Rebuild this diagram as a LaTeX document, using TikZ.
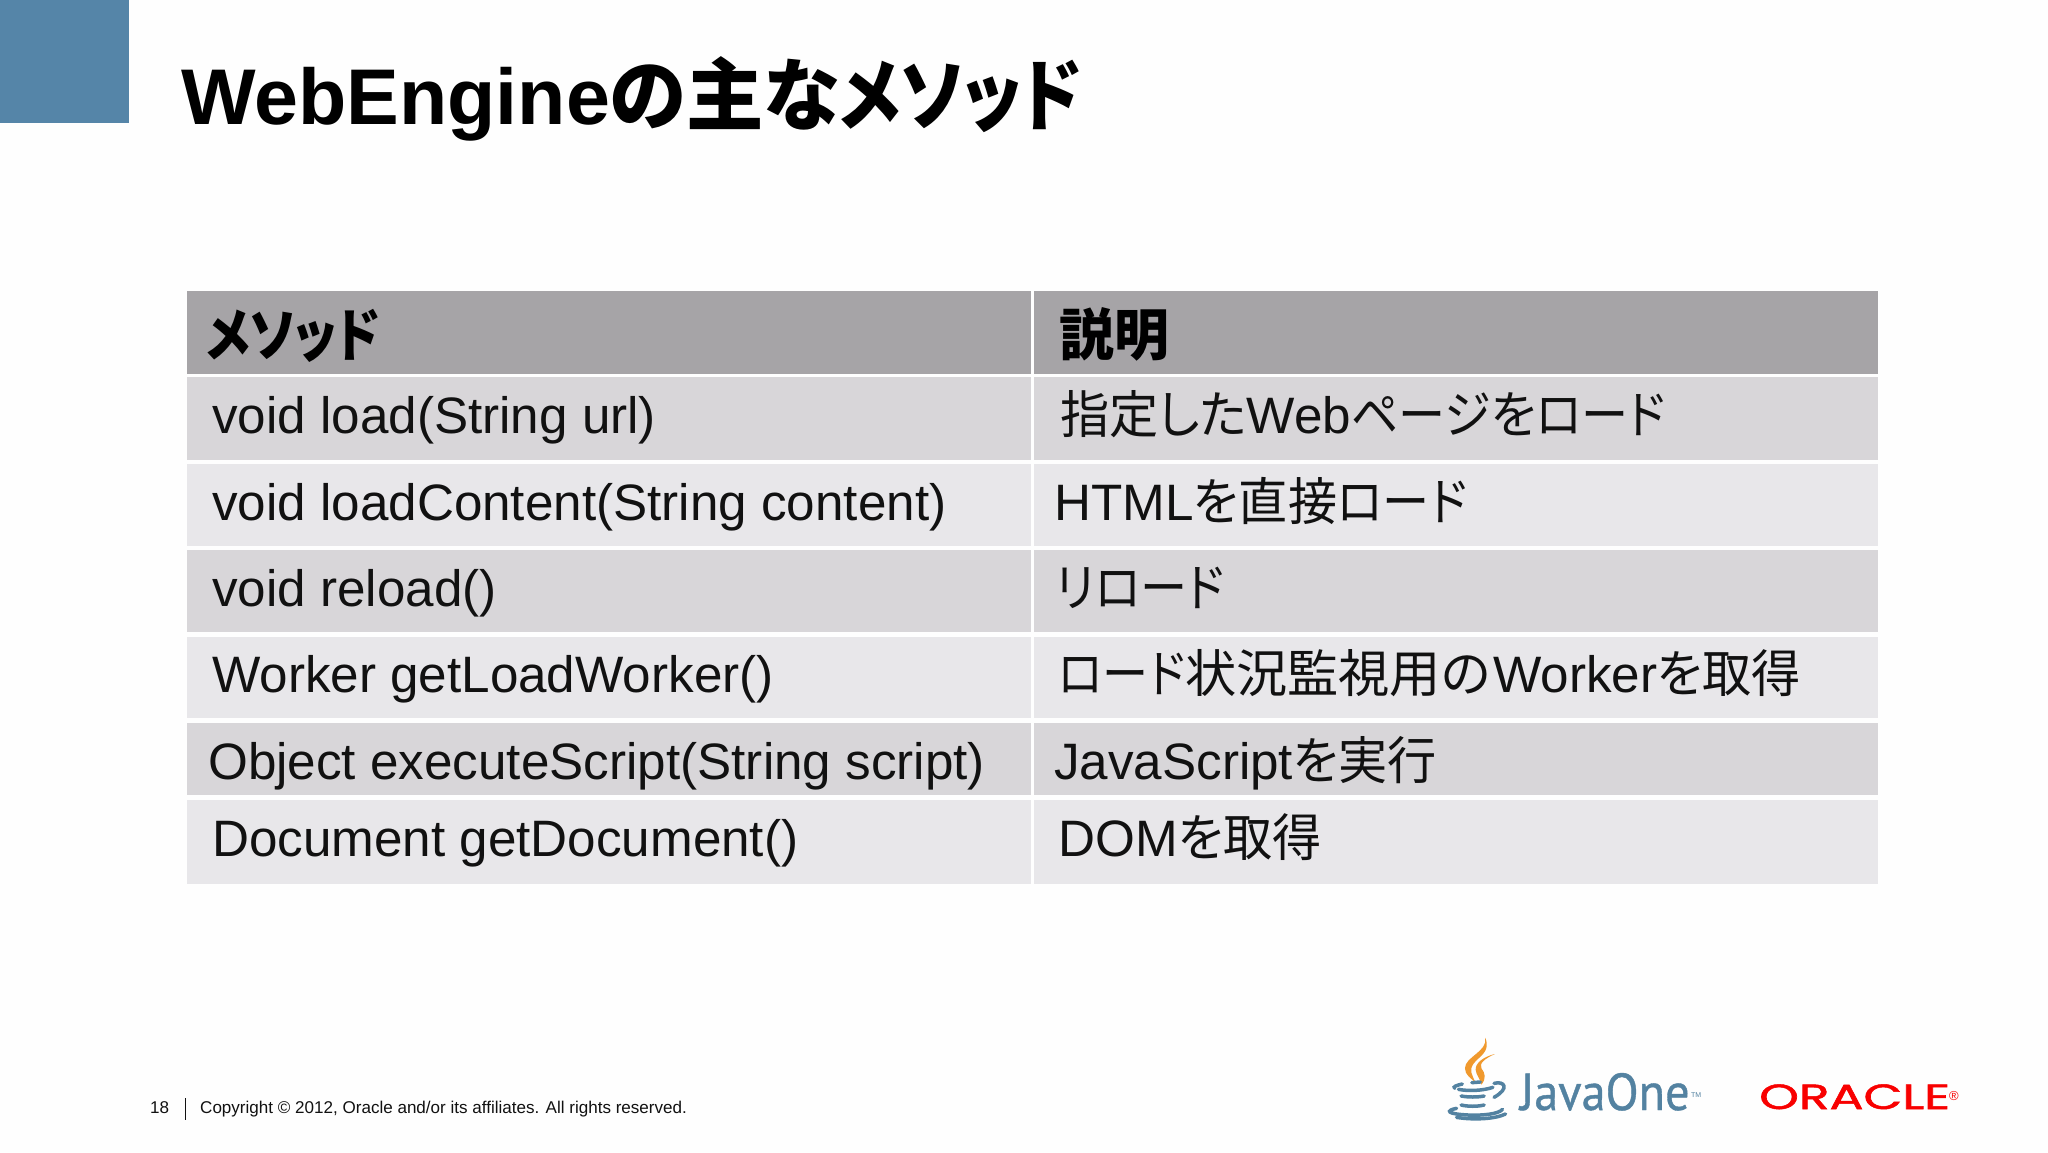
\documentclass[tikz,border=0pt]{standalone}
\usepackage{fontspec}
\setmainfont{Liberation Sans}
\newfontfamily\jpf[RawFeature=+palt]{Noto Sans CJK JP}
\newfontfamily\jph[RawFeature=+palt,FakeStretch=0.96]{Noto Sans CJK JP}
\newfontfamily\jpk[RawFeature=+palt,FakeStretch=0.90]{Noto Sans CJK JP}
\newfontfamily\jpq[RawFeature=+palt,FakeStretch=0.92]{Noto Sans CJK JP}
\newfontfamily\jpbk[RawFeature=+palt,FakeStretch=0.87,BoldFeatures={FakeStretch=0.87}]{Noto Sans CJK JP}
\newfontfamily\jpbh[RawFeature=+palt,FakeStretch=0.85,BoldFeatures={FakeStretch=0.85}]{Noto Sans CJK JP}
\newfontfamily\jpbn[RawFeature=+palt,FakeStretch=0.98,BoldFeatures={FakeStretch=0.98}]{Noto Sans CJK JP}
\newfontfamily\pop[FakeBold=1.4]{Poppins}
\newfontfamily\pts[FakeBold=0.8]{PT Sans}
\newcommand{\jj}[1]{{\jpf #1}}
\newcommand{\jh}[1]{{\jph #1}}
\newcommand{\jk}[1]{{\jpk #1}}
\newcommand{\jq}[1]{{\jpq #1}}
\newcommand{\jbk}[1]{{\jpbk\bfseries #1}}
\newcommand{\jbh}[1]{{\jpbh\bfseries #1}}
\newcommand{\jbn}[1]{{\jpbn\bfseries #1}}
\definecolor{bluebox}{HTML}{5585A8}
\definecolor{headgray}{HTML}{A6A4A7}
\definecolor{rowdark}{HTML}{D8D6D9}
\definecolor{rowlight}{HTML}{E8E7EA}
\definecolor{javablue}{HTML}{5382A1}
\definecolor{javaorange}{HTML}{F0992E}
\definecolor{oraclered}{HTML}{F80000}
\definecolor{inkc}{HTML}{111111}
\tikzset{
  cellbox/.style={anchor=north west,inner sep=0pt,outer sep=0pt,draw=none},
  celltext/.style={anchor=base west,inner sep=0pt,text=inkc,font=\fontsize{51.2}{51.2}\selectfont},
  headtext/.style={anchor=base west,inner sep=0pt,text=black},
  foottext/.style={anchor=base west,inner sep=0pt,text=inkc,font=\fontsize{17.05}{17.05}\selectfont},
  steamshape/.style={fill=javaorange,draw=none},
  cupline/.style={draw=javablue,line width=3.5pt,line cap=round,fill=none},
}
\begin{document}
\begin{tikzpicture}[x=1pt,y=-1pt]
\useasboundingbox (0,0) rectangle (2048,1152);
\fill[white!99.5!black] (0,0) rectangle (2048,1152);
\node[cellbox,fill=bluebox,minimum width=129pt,minimum height=123pt] (corner) at (0,0) {};
\node[anchor=base west,inner sep=0pt,text=black,font=\fontsize{79}{79}\selectfont\bfseries] (title) at (181,124) {WebEngine\jbn{の主な}\jbk{メソッド}};
% table cells
\foreach \nm/\col/\ya/\yb in {h/headgray/291/374,a/rowdark/377/460,b/rowlight/464/546,c/rowdark/550/632,d/rowlight/637/718,e/rowdark/723/795,f/rowlight/800/884}{
  \pgfmathsetlengthmacro{\hh}{(\yb-\ya)*1pt}
  \node[cellbox,fill=\col,minimum width=844pt,minimum height=\hh] (\nm l) at (187,\ya) {};
  \node[cellbox,fill=\col,minimum width=844pt,minimum height=\hh] (\nm r) at (1034,\ya) {};
}
\node[headtext,font=\fontsize{58}{58}\selectfont] (h1) at (206,356) {\jbh{メソッド}};
\node[headtext,font=\fontsize{56}{56}\selectfont] (h2) at (1059,355) {\jbn{説明}};
\node[celltext] (a1) at (212,433) {void load(String url)};
\node[celltext] (a2) at (1060,433) {\jh{指定した}Web\jq{ページ}\jh{を}\jq{ロード}};
\node[celltext] (b1) at (212,520) {void loadContent(String content)};
\node[celltext] (b2) at (1054,520) {HTML\jh{を直接}\jq{ロード}};
\node[celltext] (c1) at (212,606) {void reload()};
\node[celltext] (c2) at (1056,606) {\jq{リロード}};
\node[celltext] (d1) at (212,692) {Worker getLoadWorker()};
\node[celltext] (d2) at (1058,692) {\jk{ロード}\jj{状況監視用の}\hspace{3pt}Worker\jh{を取得}};
\node[celltext] (e1) at (208,779) {Object executeScript(String script)};
\node[celltext] (e2) at (1054,779) {JavaScript\jh{を実行}};
\node[celltext] (f1) at (212,856) {Document getDocument()};
\node[celltext] (f2) at (1058,856) {DOM\jh{を取得}};
% footer
\node[foottext] (pg) at (150,1113) {18};
\draw[inkc,line width=1pt] (185,1098) -- (185,1120);
\node[foottext] (copy) at (200,1113) {Copyright © 2012, Oracle and/or its affiliates. All rights reserved.};
% JavaOne logo
\begin{scope}[shift={(1380,1010)},x=0.3827pt,y=-0.3333pt]
\path[steamshape] (275,83) .. controls (282,125) and (222,140) .. (222,175) .. controls (222,195) and (238,205) .. (250,218) .. controls (240,195) and (232,180) .. (245,160) .. controls (260,138) and (290,125) .. (275,83) -- cycle;
\path[steamshape] (300,132) .. controls (270,140) and (248,160) .. (250,180) .. controls (252,198) and (262,205) .. (265,224) .. controls (278,205) and (275,190) .. (265,175) .. controls (258,160) and (275,145) .. (300,132) -- cycle;
\draw[cupline] (215,222) .. controls (200,226) and (190,230) .. (195,235);
\draw[cupline] (240,218) -- (262,216);
\draw[cupline] (205,238) .. controls (230,244) and (270,242) .. (295,232);
\draw[cupline] (298,220) .. controls (325,212) and (340,235) .. (298,262);
\draw[cupline] (212,258) .. controls (230,262) and (255,262) .. (272,258);
\draw[cupline] (212,285) .. controls (230,290) and (255,290) .. (272,285);
\draw[cupline] (200,295) .. controls (170,302) and (175,312) .. (230,315) .. controls (270,317) and (310,312) .. (320,298);
\draw[cupline] (200,322) .. controls (240,330) and (300,328) .. (328,312);
\end{scope}
\node[anchor=base west,inner sep=0pt,text=javablue,font=\pts\fontsize{52}{52}\selectfont,xscale=0.93] (jone) at (1520,1110) {JavaOne};
\node[anchor=base west,inner sep=0pt,text=javablue,font=\fontsize{7}{7}\selectfont] (jtm) at (1691,1097) {TM};
\node[anchor=base west,inner sep=0pt,text=oraclered,font=\pop\fontsize{35}{35}\selectfont,xscale=1.44] (oracle) at (1759,1109) {ORACLE};
\node[anchor=base west,inner sep=0pt,text=oraclered,font=\fontsize{13}{13}\selectfont] (oreg) at (1949,1100) {®};
\end{tikzpicture}
\end{document}
